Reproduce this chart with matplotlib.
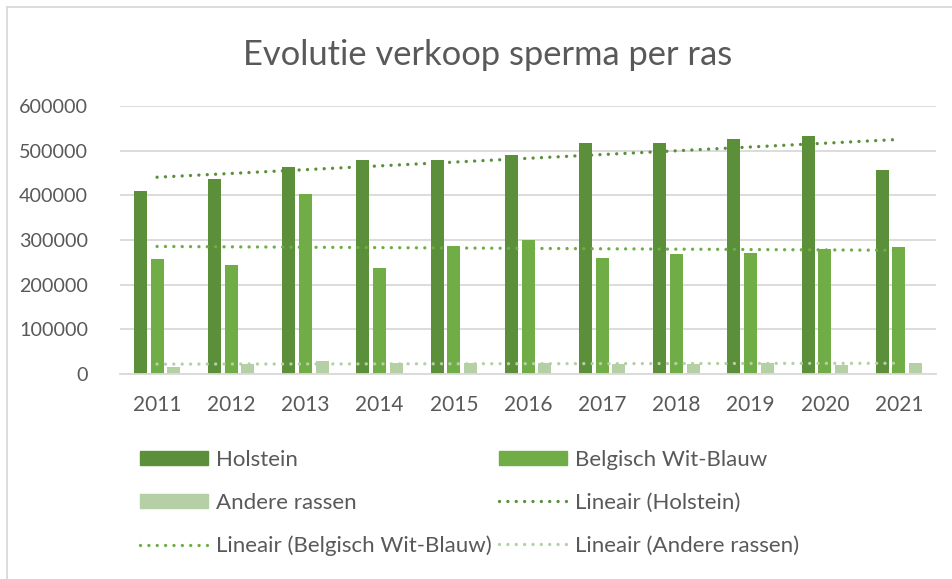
import numpy as np
import matplotlib.pyplot as plt
from matplotlib.lines import Line2D
from matplotlib.patches import Patch

plt.rcParams['font.family'] = ['Lato', 'DejaVu Sans']

# data
years = ['2011', '2012', '2013', '2014', '2015', '2016', '2017', '2018', '2019', '2020', '2021']
holstein = [410000, 436000, 463500, 479000, 479000, 489500, 518000, 518000, 526000, 533000, 457500]
bwb = [258500, 245000, 403000, 237000, 287500, 300000, 259000, 268000, 271000, 279000, 285000]
andere = [15500, 22000, 29000, 25000, 24000, 25000, 22000, 22000, 24000, 21000, 25000]

names = ['Holstein', 'Belgisch Wit-Blauw', 'Andere rassen']
colors = ['#5B8F3A', '#70AD47', '#B5D0A5']
series = [holstein, bwb, andere]

txt = '#595959'
grid = '#D9D9D9'

fig = plt.figure(figsize=(9.53, 5.79), dpi=100)
ax = fig.add_axes([0.1259, 0.354, 0.8563, 0.4631])

x = np.arange(1, len(years) + 1)
w = 0.175
offs = [-0.225, 0, 0.225]
for vals, c, o in zip(series, colors, offs):
    ax.bar(x + o, vals, width=w, color=c, zorder=2)

# linear trendlines
for vals, c in zip(series, colors):
    k, b = np.polyfit(x, vals, 1)
    ax.plot(x, k * x + b, color=c, lw=2.4, linestyle=(0, (0.01, 2.5)),
            dash_capstyle='round', zorder=3)

ax.set_xlim(0.5, len(years) + 0.5)
ax.set_ylim(0, 600000)
ax.set_yticks(np.arange(0, 600001, 100000))
ax.set_xticks(x)
ax.set_xticklabels(years)
ax.yaxis.grid(True, color=grid, lw=1.3, zorder=0)
ax.set_axisbelow(True)
for s in ['top', 'right', 'left']:
    ax.spines[s].set_visible(False)
ax.spines['bottom'].set_color(grid)
ax.spines['bottom'].set_linewidth(1.3)
ax.tick_params(axis='both', length=0, labelsize=14.2, colors=txt)
ax.tick_params(axis='y', pad=23)
ax.tick_params(axis='x', labelsize=15, pad=15)

fig.text(0.512, 0.8877, 'Evolutie verkoop sperma per ras', ha='center', va='baseline',
         fontsize=24.8, color=txt)

def dots(c):
    return Line2D([0], [0], color=c, lw=2.4, linestyle=(0, (0.01, 2.5)),
                  dash_capstyle='round')

col1 = [Patch(color=colors[0]), Patch(color=colors[2]), dots(colors[1])]
lab1 = ['Holstein', 'Andere rassen', 'Lineair (Belgisch Wit-Blauw)']
col2 = [Patch(color=colors[1]), dots(colors[0]), dots(colors[2])]
lab2 = ['Belgisch Wit-Blauw', 'Lineair (Holstein)', 'Lineair (Andere rassen)']

kw = dict(loc='upper left', frameon=False, fontsize=16, labelcolor=txt,
          handlelength=3.06, handletextpad=0.36, labelspacing=1.03,
          handleheight=0.62, borderaxespad=0, borderpad=0)
l1 = fig.legend(col1, lab1, bbox_to_anchor=(140 / 953, 1 - 450 / 579), **kw)
l2 = fig.legend(col2, lab2, bbox_to_anchor=(499 / 953, 1 - 450 / 579), **kw)

# chart border (left and top visible)
fig.add_artist(Line2D([7 / 953, 7 / 953], [0, 1 - 7 / 579], color=grid, lw=1.3))
fig.add_artist(Line2D([7 / 953, 1], [1 - 7 / 579, 1 - 7 / 579], color=grid, lw=1.3))

fig.savefig('out.png', dpi=100)
